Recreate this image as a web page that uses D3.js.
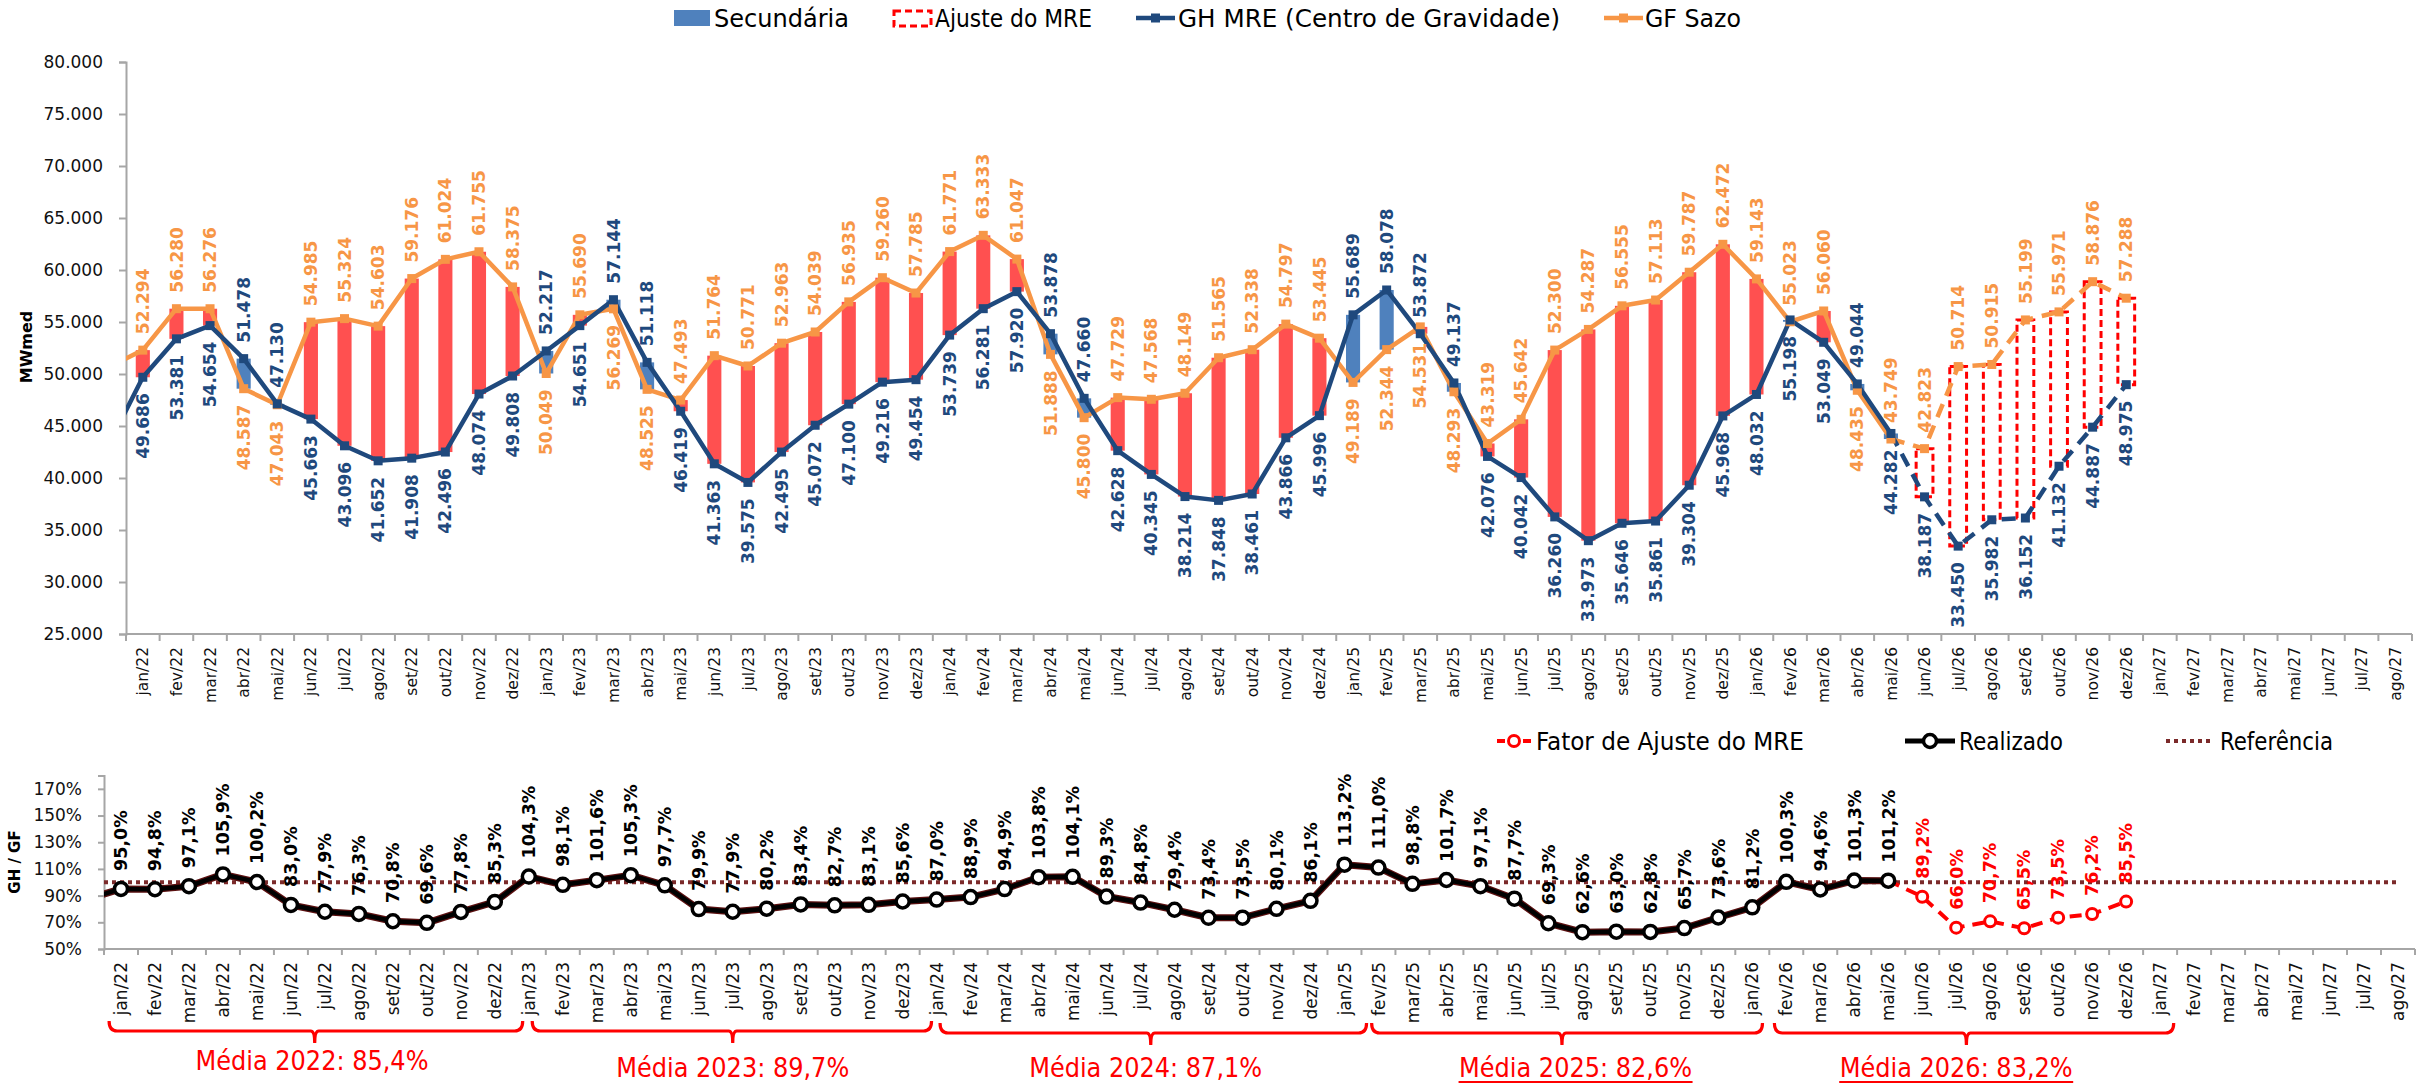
<!DOCTYPE html>
<html>
<head>
<meta charset="utf-8">
<script src="https://cdn.jsdelivr.net/npm/d3@7"></script>
<style>
  body { margin: 0; background: #fff; }
  svg { display: block; }
</style>
</head>
<body>
<svg id="chart" width="2425" height="1086"></svg>
<script>
// ---- Categories -------------------------------------------------------
const monthNames = ["jan","fev","mar","abr","mai","jun","jul","ago","set","out","nov","dez"];
const yearSuffixes = ["22","23","24","25","26","27"];
const categories = [];
yearSuffixes.forEach(y => monthNames.forEach(m => categories.push(m + "/" + y)));
categories.length = 68; // jan/22 .. ago/27

// ---- Series (MWmed), jan/22 .. dez/26 ----------------------------------
const gfSazo = [
  52294, 56280, 56276, 48587, 47043, 54985, 55324, 54603, 59176, 61024, 61755, 58375,
  50049, 55690, 56269, 48525, 47493, 51764, 50771, 52963, 54039, 56935, 59260, 57785,
  61771, 63333, 61047, 51888, 45800, 47729, 47568, 48149, 51565, 52338, 54797, 53445,
  49189, 52344, 54531, 48293, 43319, 45642, 52300, 54287, 56555, 57113, 59787, 62472,
  59143, 55023, 56060, 48435, 43749, 42823, 50714, 50915, 55199, 55971, 58876, 57288
];
const ghMre = [
  49686, 53381, 54654, 51478, 47130, 45663, 43096, 41652, 41908, 42496, 48074, 49808,
  52217, 54651, 57144, 51118, 46419, 41363, 39575, 42495, 45072, 47100, 49216, 49454,
  53739, 56281, 57920, 53878, 47660, 42628, 40345, 38214, 37848, 38461, 43866, 45996,
  55689, 58078, 53872, 49137, 42076, 40042, 36260, 33973, 35646, 35861, 39304, 45968,
  48032, 55198, 53049, 49044, 44282, 38187, 33450, 35982, 36152, 41132, 44887, 48975
];
// dez/21 values, only the segment leading into jan/22 is visible
const gfSazoDez21 = 50700;
const ghMreDez21 = 43300;
const ratioDez21 = 87.4;

// last realised month (mai/26); after it the figures are projections
const lastRealised = "mai/26";

// ---- GH / GF (%) -------------------------------------------------------
const ratioRealizado = [
  95.0, 94.8, 97.1, 105.9, 100.2, 83.0, 77.9, 76.3, 70.8, 69.6, 77.8, 85.3,
  104.3, 98.1, 101.6, 105.3, 97.7, 79.9, 77.9, 80.2, 83.4, 82.7, 83.1, 85.6,
  87.0, 88.9, 94.9, 103.8, 104.1, 89.3, 84.8, 79.4, 73.4, 73.5, 80.1, 86.1,
  113.2, 111.0, 98.8, 101.7, 97.1, 87.7, 69.3, 62.6, 63.0, 62.8, 65.7, 73.6,
  81.2, 100.3, 94.6, 101.3, 101.2
];
const ratioAjuste = [89.2, 66.0, 70.7, 65.5, 73.5, 76.2, 85.5]; // jun/26 .. dez/26
const referencia = 100;

const mediaYears = ["2022", "2023", "2024", "2025", "2026"];
const mediaValues = [85.4, 89.7, 87.1, 82.6, 83.2];

const yTicksTop = [25000, 30000, 35000, 40000, 45000, 50000, 55000, 60000, 65000, 70000, 75000, 80000];
const yTicksBottom = [50, 70, 90, 110, 130, 150, 170];

// ---- Formatting ---------------------------------------------------------
const ptBR = d3.formatLocale({ decimal: ",", thousands: ".", grouping: [3], currency: ["R$ ", ""] });
const fmtMW = ptBR.format(",.0f");
const fmtPct = v => ptBR.format(".1f")(v) + "%";

// ---- Colours / fonts ----------------------------------------------------
const C = {
  orange: "#F79646", blue: "#1F497D", red: "#FF5050", sec: "#4F81BD",
  axis: "#a6a6a6", adj: "#FF0000", ref: "#7B2A2A", black: "#000"
};
const FONT = "'DejaVu Sans', Verdana, sans-serif";
const NARROW = "'Liberation Sans Narrow', 'DejaVu Sans Condensed', sans-serif";

const svg = d3.select("#chart");
const iLast = categories.indexOf(lastRealised);

// helper for rotated (bottom-to-top) text centred on x
function vText(g, x, y, txt, anchor, size, color, weight) {
  return g.append("text")
    .attr("transform", `translate(${x},${y}) rotate(-90)`)
    .attr("dy", "0.36em")
    .attr("text-anchor", anchor)
    .style("font-family", FONT)
    .style("font-size", size + "px")
    .style("font-weight", weight || "normal")
    .attr("fill", color)
    .text(txt);
}
function legText(g, x, y, txt, len) {
  g.append("text").attr("x", x).attr("y", y)
    .style("font-family", NARROW).style("font-size", "25px").attr("fill", "#000")
    .attr("textLength", len).attr("lengthAdjust", "spacingAndGlyphs").text(txt);
}

// =========================================================================
// Upper chart: GH MRE vs GF Sazo
// =========================================================================
const gTop = svg.append("g");
const xT = d3.scaleBand().domain(categories).range([126, 2412]);
const yT = d3.scaleLinear().domain([25000, 80000]).range([634, 62]);
const bwT = xT.bandwidth();
const cxT = i => (i < 0 ? xT(categories[0]) - bwT : xT(categories[i])) + bwT / 2;

gTop.append("clipPath").attr("id", "clipTop")
  .append("rect").attr("x", xT.range()[0]).attr("y", 0)
  .attr("width", xT.range()[1] - xT.range()[0]).attr("height", 640);

// bars between the two series
const barW = bwT * 0.42;
gfSazo.forEach((gf, i) => {
  const gh = ghMre[i];
  const lo = Math.min(gf, gh), hi = Math.max(gf, gh);
  const r = gTop.append("rect")
    .attr("x", cxT(i) - barW / 2)
    .attr("y", yT(hi))
    .attr("width", barW)
    .attr("height", yT(lo) - yT(hi));
  if (i <= iLast) {
    r.attr("fill", gh > gf ? C.sec : C.red);
  } else {
    r.attr("x", cxT(i) - bwT * 0.25).attr("width", bwT * 0.5)
      .attr("fill", "#fff").attr("stroke", C.adj)
      .attr("stroke-width", 3).attr("stroke-dasharray", "7,4");
  }
});

// axes
const yAxT = gTop.append("g").attr("transform", `translate(${xT.range()[0]},0)`)
  .call(d3.axisLeft(yT).tickValues(yTicksTop).tickFormat(fmtMW).tickSize(7).tickPadding(16));
yAxT.select(".domain").attr("stroke", C.axis).attr("stroke-width", 2);
yAxT.selectAll(".tick line").attr("stroke", C.axis).attr("stroke-width", 2);
yAxT.selectAll(".tick text").style("font-family", FONT).style("font-size", "17px").attr("fill", "#111");

const xAxT = gTop.append("g");
xAxT.append("line").attr("x1", xT.range()[0]).attr("x2", xT.range()[1])
  .attr("y1", yT(25000)).attr("y2", yT(25000)).attr("stroke", C.axis).attr("stroke-width", 2);
categories.concat([null]).forEach(c => {
  const x = c ? xT(c) : xT.range()[1];
  xAxT.append("line").attr("x1", x).attr("x2", x).attr("y1", yT(25000)).attr("y2", yT(25000) + 7)
    .attr("stroke", C.axis).attr("stroke-width", 2);
});
categories.forEach((c, i) => vText(xAxT, cxT(i), yT(25000) + 13, c, "end", 15.5, "#111"));

// y title
gTop.append("text").attr("transform", `translate(26,347) rotate(-90)`)
  .attr("text-anchor", "middle").attr("dy", "0.36em")
  .style("font-family", FONT).style("font-size", "16px").style("font-weight", "bold")
  .text("MWmed");

// lines
const lineT = d3.line().x(d => cxT(d.i)).y(d => yT(d.v));
function seriesPts(arr, lead) {
  return [{ i: -1, v: lead }].concat(arr.map((v, i) => ({ i, v })));
}
const gfPts = seriesPts(gfSazo, gfSazoDez21);
const ghPts = seriesPts(ghMre, ghMreDez21);
const linesG = gTop.append("g").attr("clip-path", "url(#clipTop)");
[[gfPts, C.orange], [ghPts, C.blue]].forEach(([pts, col]) => {
  linesG.append("path").attr("d", lineT(pts.filter(d => d.i <= iLast)))
    .attr("fill", "none").attr("stroke", col).attr("stroke-width", 4.5).attr("stroke-linejoin", "round");
  linesG.append("path").attr("d", lineT(pts.filter(d => d.i >= iLast)))
    .attr("fill", "none").attr("stroke", col).attr("stroke-width", 4.5)
    .attr("stroke-dasharray", "14,9");
});
[[gfPts, C.orange], [ghPts, C.blue]].forEach(([pts, col]) => {
  linesG.selectAll(null).data(pts.filter(d => d.i >= 0)).enter().append("rect")
    .attr("x", d => cxT(d.i) - 4.5).attr("y", d => yT(d.v) - 4.5)
    .attr("width", 9).attr("height", 9).attr("fill", col);
});

// value labels: the upper of the pair goes above, the lower below
const labelFlip = new Set(["mar/25", "fev/26", "mai/26"]);
const labT = gTop.append("g");
gfSazo.forEach((gf, i) => {
  const gh = ghMre[i];
  let gfUp = gf >= gh;
  if (labelFlip.has(categories[i])) gfUp = !gfUp;
  const off = 16;
  if (gfUp) {
    vText(labT, cxT(i), yT(gf) - off, fmtMW(gf), "start", 17, C.orange, "bold");
    vText(labT, cxT(i), yT(gh) + off, fmtMW(gh), "end", 17, C.blue, "bold");
  } else {
    vText(labT, cxT(i), yT(gh) - off, fmtMW(gh), "start", 17, C.blue, "bold");
    vText(labT, cxT(i), yT(gf) + off, fmtMW(gf), "end", 17, C.orange, "bold");
  }
});

// upper legend
const legT = svg.append("g");
legT.append("rect").attr("x", 674).attr("y", 10).attr("width", 36).attr("height", 16).attr("fill", C.sec);
legText(legT, 714, 27, "Secundária", 135);
legT.append("rect").attr("x", 894).attr("y", 11).attr("width", 37).attr("height", 15)
  .attr("fill", "#fff").attr("stroke", C.adj).attr("stroke-width", 3).attr("stroke-dasharray", "7,4");
legText(legT, 935, 27, "Ajuste do MRE", 157);
legT.append("line").attr("x1", 1136).attr("x2", 1175).attr("y1", 18).attr("y2", 18)
  .attr("stroke", C.blue).attr("stroke-width", 4.5);
legT.append("rect").attr("x", 1151).attr("y", 13.5).attr("width", 9).attr("height", 9).attr("fill", C.blue);
legText(legT, 1178, 27, "GH MRE (Centro de Gravidade)", 382);
legT.append("line").attr("x1", 1604).attr("x2", 1643).attr("y1", 18).attr("y2", 18)
  .attr("stroke", C.orange).attr("stroke-width", 4.5);
legT.append("rect").attr("x", 1619).attr("y", 13.5).attr("width", 9).attr("height", 9).attr("fill", C.orange);
legText(legT, 1645, 27, "GF Sazo", 96);

// =========================================================================
// Lower chart: GH / GF
// =========================================================================
const gBot = svg.append("g");
const xB = d3.scaleBand().domain(categories).range([104, 2415]);
const yB = d3.scaleLinear().domain([50, 180]).range([949, 775.5]);
const bwB = xB.bandwidth();
const cxB = i => (i < 0 ? xB(categories[0]) - bwB : xB(categories[i])) + bwB / 2;

gBot.append("clipPath").attr("id", "clipBot")
  .append("rect").attr("x", xB.range()[0]).attr("y", 700)
  .attr("width", xB.range()[1] - xB.range()[0]).attr("height", 260);

const yAxB = gBot.append("g").attr("transform", `translate(${xB.range()[0]},0)`)
  .call(d3.axisLeft(yB).tickValues(yTicksBottom).tickFormat(d => d + "%").tickSize(6).tickPadding(16));
yAxB.select(".domain").attr("stroke", C.axis).attr("stroke-width", 2);
yAxB.selectAll(".tick line").attr("stroke", C.axis).attr("stroke-width", 2);
yAxB.selectAll(".tick text").style("font-family", FONT).style("font-size", "17px").attr("fill", "#111");

const xAxB = gBot.append("g");
xAxB.append("line").attr("x1", xB.range()[0]).attr("x2", xB.range()[1])
  .attr("y1", yB(50)).attr("y2", yB(50)).attr("stroke", C.axis).attr("stroke-width", 2);
categories.concat([null]).forEach(c => {
  const x = c ? xB(c) : xB.range()[1];
  xAxB.append("line").attr("x1", x).attr("x2", x).attr("y1", yB(50)).attr("y2", yB(50) + 6)
    .attr("stroke", C.axis).attr("stroke-width", 2);
});
categories.forEach((c, i) => vText(xAxB, cxB(i), yB(50) + 13, c, "end", 17, "#111"));

gBot.append("text").attr("transform", `translate(15,862) rotate(-90)`)
  .attr("text-anchor", "middle").attr("dy", "0.36em")
  .style("font-family", FONT).style("font-size", "15px").style("font-weight", "bold")
  .text("GH / GF");

// reference line at 100 %
gBot.append("line").attr("x1", xB.range()[0]).attr("x2", cxB(categories.length - 1))
  .attr("y1", yB(referencia)).attr("y2", yB(referencia))
  .attr("stroke", C.ref).attr("stroke-width", 4).attr("stroke-dasharray", "4,4");

const lineB = d3.line().x(d => cxB(d.i)).y(d => yB(d.v));
const realPts = [{ i: -1, v: ratioDez21 }].concat(ratioRealizado.map((v, i) => ({ i, v })));
const adjPts = [{ i: iLast, v: ratioRealizado[iLast] }]
  .concat(ratioAjuste.map((v, k) => ({ i: iLast + 1 + k, v })));

const gB = gBot.append("g").attr("clip-path", "url(#clipBot)");
gB.append("path").attr("d", lineB(realPts)).attr("fill", "none")
  .attr("stroke", "#5a1010").attr("stroke-width", 7).attr("stroke-linejoin", "round");
gB.append("path").attr("d", lineB(realPts)).attr("fill", "none")
  .attr("stroke", C.black).attr("stroke-width", 4.5).attr("stroke-linejoin", "round");
gB.append("path").attr("d", lineB(adjPts)).attr("fill", "none")
  .attr("stroke", C.adj).attr("stroke-width", 4).attr("stroke-dasharray", "12,8");
gB.selectAll(null).data(realPts.filter(d => d.i >= 0)).enter().append("circle")
  .attr("cx", d => cxB(d.i)).attr("cy", d => yB(d.v)).attr("r", 6.5)
  .attr("fill", "#fff").attr("stroke", C.black).attr("stroke-width", 3.5);
gB.selectAll(null).data(adjPts.slice(1)).enter().append("circle")
  .attr("cx", d => cxB(d.i)).attr("cy", d => yB(d.v)).attr("r", 5.5)
  .attr("fill", "#fff").attr("stroke", C.adj).attr("stroke-width", 3);

const labB = gBot.append("g");
realPts.filter(d => d.i >= 0).forEach(d =>
  vText(labB, cxB(d.i), yB(d.v) - 18, fmtPct(d.v), "start", 17.5, "#000", "bold"));
adjPts.slice(1).forEach(d =>
  vText(labB, cxB(d.i), yB(d.v) - 18, fmtPct(d.v), "start", 17.5, C.adj, "bold"));

// yearly brackets and averages (positions in month units along the axis)
const bracketSpans = [[0.15, 12.32, 6.2], [12.6, 24.35, 18.5], [24.6, 37.15, 30.8], [37.3, 48.8, 42.9], [49.15, 60.9, 54.8]];
const mediaCentres = [6.12, 18.5, 30.65, 43.3, 54.5];
const mediaUnderlined = ["2025", "2026"];
const bx = u => xB.range()[0] + u * xB.step();
const brG = gBot.append("g");
bracketSpans.forEach(([a, b, m], k) => {
  const yb = 1031 + (k >= 2 ? 2 : 0);
  brG.append("path")
    .attr("d", `M${bx(a)},${yb - 10} Q${bx(a)},${yb} ${bx(a) + 8},${yb} L${bx(m) - 4},${yb} Q${bx(m)},${yb} ${bx(m)},${yb + 12} Q${bx(m)},${yb} ${bx(m) + 4},${yb} L${bx(b) - 8},${yb} Q${bx(b)},${yb} ${bx(b)},${yb - 10}`)
    .attr("fill", "none").attr("stroke", C.adj).attr("stroke-width", 3.2);
});
mediaYears.forEach((yr, k) => {
  const x = bx(mediaCentres[k]);
  const yb = k === 0 ? 1070 : 1077;
  brG.append("text").attr("x", x).attr("y", yb).attr("text-anchor", "middle")
    .style("font-family", NARROW).style("font-size", "27px").attr("fill", C.adj)
    .attr("textLength", 233).attr("lengthAdjust", "spacingAndGlyphs")
    .text(`Média ${yr}: ${fmtPct(mediaValues[k])}`);
  if (mediaUnderlined.includes(yr)) {
    brG.append("line").attr("x1", x - 117).attr("x2", x + 117).attr("y1", yb + 5).attr("y2", yb + 5)
      .attr("stroke", C.adj).attr("stroke-width", 2);
  }
});

// lower legend
const legB = svg.append("g");
legB.append("line").attr("x1", 1497).attr("x2", 1531).attr("y1", 741).attr("y2", 741)
  .attr("stroke", C.adj).attr("stroke-width", 4).attr("stroke-dasharray", "8,5");
legB.append("circle").attr("cx", 1514).attr("cy", 741).attr("r", 5.5)
  .attr("fill", "#fff").attr("stroke", C.adj).attr("stroke-width", 3);
legText(legB, 1536, 750, "Fator de Ajuste do MRE", 268);
legB.append("line").attr("x1", 1905).attr("x2", 1955).attr("y1", 741).attr("y2", 741)
  .attr("stroke", C.black).attr("stroke-width", 5);
legB.append("circle").attr("cx", 1930).attr("cy", 741).attr("r", 6.5)
  .attr("fill", "#fff").attr("stroke", C.black).attr("stroke-width", 3.5);
legText(legB, 1959, 750, "Realizado", 104);
legB.append("line").attr("x1", 2166).attr("x2", 2212).attr("y1", 741).attr("y2", 741)
  .attr("stroke", C.ref).attr("stroke-width", 4).attr("stroke-dasharray", "4,4");
legText(legB, 2220, 750, "Referência", 113);
</script>
</body>
</html>
